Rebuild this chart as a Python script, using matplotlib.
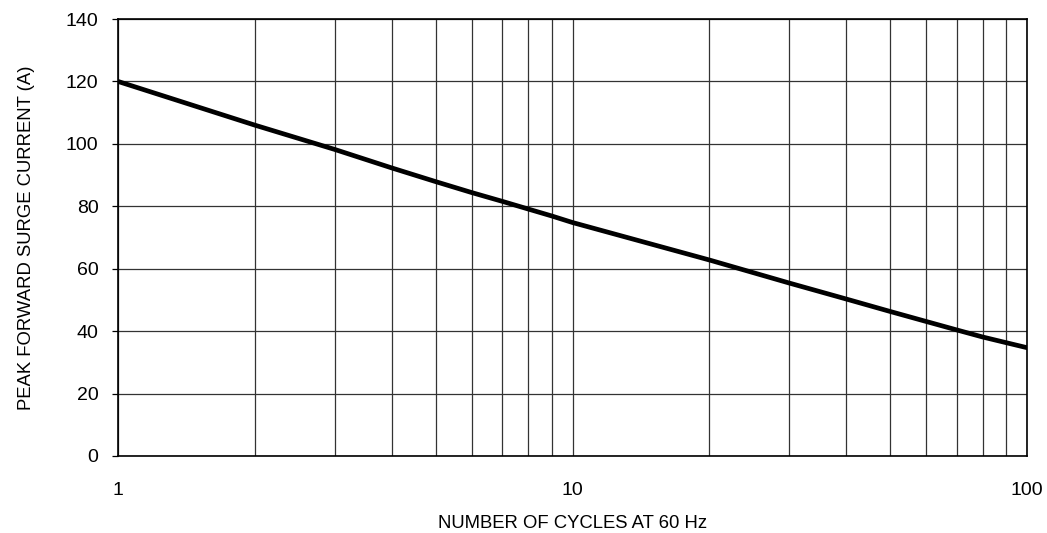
import matplotlib
matplotlib.use("Agg")
import matplotlib.pyplot as plt
from matplotlib.ticker import FixedLocator, NullFormatter, FixedFormatter

cycles = [1, 2, 3, 4, 5, 6, 7, 8, 9, 10, 20, 30, 40, 50, 60, 70, 80, 90, 100]
current = [120, 106, 98.2, 92.3, 87.9, 84.4, 81.6, 79.1, 76.9, 74.8,
           62.8, 55.4, 50.3, 46.3, 43.1, 40.4, 38.1, 36.3, 34.7]
x_major = [1, 10, 100]
x_labels = ["1", "10", "100"]
x_minor = [2, 3, 4, 5, 6, 7, 8, 9, 20, 30, 40, 50, 60, 70, 80, 90]
y_ticks = [0, 20, 40, 60, 80, 100, 120, 140]

plt.rcParams['font.family'] = ['Liberation Sans', 'DejaVu Sans']

fig = plt.figure(figsize=(10.47, 5.33), dpi=100)
ax = fig.add_axes([118/1047, 77/533, 909/1047, 437/533])
ax.set_xscale('log')
ax.set_xlim(1, 100)
ax.set_ylim(0, 140)
ax.xaxis.set_major_locator(FixedLocator(x_major))
ax.xaxis.set_major_formatter(FixedFormatter(x_labels))
ax.xaxis.set_minor_locator(FixedLocator(x_minor))
ax.xaxis.set_minor_formatter(NullFormatter())
ax.set_yticks(y_ticks)

ax.grid(True, which='both', axis='x', color='#333333', linewidth=0.9)
ax.grid(True, which='major', axis='y', color='#333333', linewidth=0.9)
ax.set_axisbelow(True)

ax.plot(cycles, current, color='black', linewidth=3.4, solid_capstyle='round', zorder=3)

ax.tick_params(axis='x', which='both', length=0, pad=19, labelsize=14)
ax.tick_params(axis='y', which='both', length=4, width=0.9, pad=10, labelsize=14)
for s in ax.spines.values():
    s.set_linewidth(1.2)
    s.set_color('black')

ax.set_xlabel('NUMBER OF CYCLES AT 60 Hz', fontsize=13.3, labelpad=11)
ax.set_ylabel('PEAK FORWARD SURGE CURRENT (A)', fontsize=13.3, labelpad=22)

fig.savefig('out.png', dpi=100)
